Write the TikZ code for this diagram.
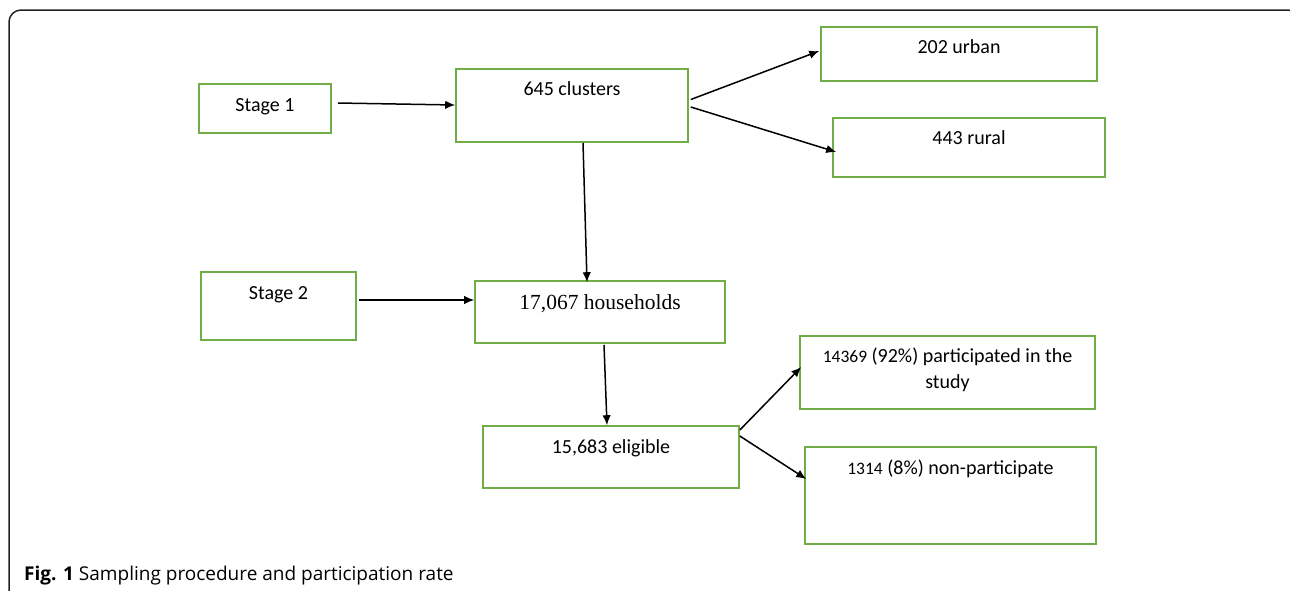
\documentclass[tikz,border=0pt]{standalone}
\usepackage{fontspec}
\setmainfont{Carlito}
\newfontfamily\timesfont{Liberation Serif}
\newfontfamily\capfont{Open Sans}
\usetikzlibrary{arrows.meta,calc}
\definecolor{boxgreen}{HTML}{70AD47}
\definecolor{framegray}{HTML}{222222}
\tikzset{
  box/.style={draw=boxgreen, line width=1.6pt, inner sep=0pt, fill=white},
  lbl/.style={anchor=base, inner sep=0pt, font=\fontsize{20}{26}\selectfont},
  arr/.style={line width=1.5pt, -{Latex[length=10pt,width=8.5pt]}},
}
\begin{document}
\begin{tikzpicture}[x=1pt,y=-1pt]
\useasboundingbox (0,0) rectangle (1290,590);
\fill[white] (0,0) rectangle (1290,590);
\begin{scope}
\clip (0,0) rectangle (1290,590);
\draw[framegray, line width=1.5pt, rounded corners=12pt] (9,10) rectangle (1300,640);
\end{scope}
% boxes
\node[box, minimum width=132pt, minimum height=49pt, label={[lbl, yshift=-28.5pt]north:Stage 1}] (s1) at (265,108.5) {};
\node[box, minimum width=232pt, minimum height=73pt, label={[lbl, yshift=-27.5pt]north:645 clusters}] (cl) at (572,105.5) {};
\node[box, minimum width=276pt, minimum height=54pt, label={[lbl, yshift=-27.5pt]north:202 urban}] (ur) at (959,54) {};
\node[box, minimum width=272pt, minimum height=59pt, label={[lbl, yshift=-27.5pt]north:443 rural}] (ru) at (969,147.5) {};
\node[box, minimum width=155pt, minimum height=68pt, label={[lbl, yshift=-28.5pt]north:Stage 2}] (s2) at (278.5,306) {};
\node[box, minimum width=250pt, minimum height=62pt, label={[lbl, yshift=-29pt]north:{\timesfont\fontsize{21.5}{25}\selectfont 17,067 households}}] (hh) at (600,312) {};
\node[box, minimum width=256pt, minimum height=62pt, label={[lbl, yshift=-28.5pt]north:15,683 eligible}] (el) at (611,457) {};
\node[box, minimum width=295pt, minimum height=73pt, label={[lbl, anchor=north, align=center, yshift=-12pt]north:{{\fontsize{17.5}{26}\selectfont 14369} (92\%) participated in the\\study}}] (pa) at (947.5,372.5) {};
\node[box, minimum width=291pt, minimum height=97pt, label={[lbl, yshift=-28.5pt]north:{{\fontsize{17.5}{26}\selectfont 1314} (8\%) non-participate}}] (np) at (950.5,495.5) {};
% arrows
\draw[arr] ($(s1.east)+(6,-5.5)$) -- ($(cl.west)+(0,-0.5)$);
\draw[arr] ($(cl.east)+(2,-6)$) -- ($(ur.west)+(-1,-3)$);
\draw[arr] ($(cl.east)+(2,1.5)$) -- ($(ru.west)+(4,4.5)$);
\draw[arr] ($(cl.south)+(11,0)$) -- ($(hh.north)+(-13,2)$);
\draw[arr] ($(s2.east)+(2,-6)$) -- ($(hh.west)+(0,-12)$);
\draw[arr] ($(hh.south)+(4,1)$) -- ($(el.north)+(-4,0)$);
\draw[arr] ($(el.east)+(0,-27)$) -- ($(pa.west)+(2,-5.5)$);
\draw[arr] ($(el.east)+(0,-21)$) -- ($(np.west)+(2,-16.5)$);
% caption
\node[anchor=base west, inner sep=0pt, font=\capfont\fontsize{19}{22}\selectfont] (cap) at (24,580) {\textbf{Fig. 1} Sampling procedure and participation rate};
\end{tikzpicture}
\end{document}
